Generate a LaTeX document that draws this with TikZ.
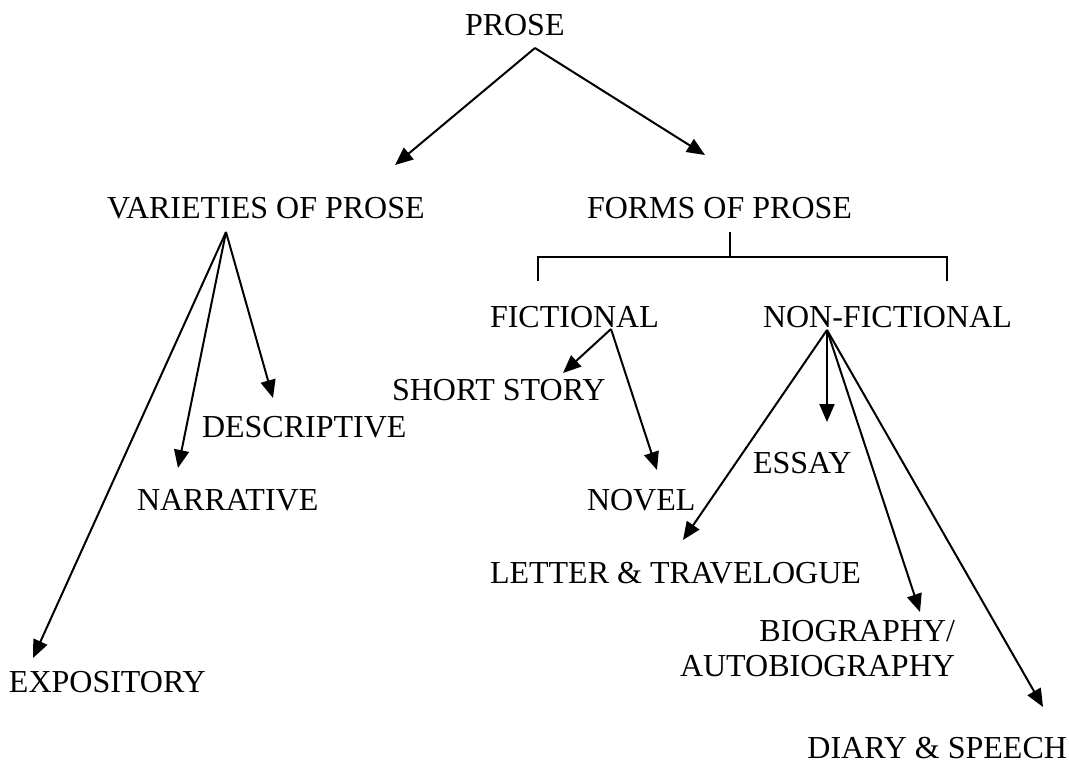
\documentclass[tikz,border=0pt]{standalone}
\usepackage{fontspec}
\setmainfont{Liberation Serif}
\usetikzlibrary{arrows.meta}
\tikzset{
  lbl/.style={inner sep=0pt, outer sep=0pt, anchor=base west, font=\fontsize{32}{35}\selectfont},
  arr/.style={line width=2pt, -{Triangle[length=18pt,width=15pt]}},
  ln/.style={line width=2pt}
}
\begin{document}
\begin{tikzpicture}[x=1pt,y=-1pt]
\useasboundingbox (0,0) rectangle (1069,764);
% labels
\node[lbl] (prose) at (465,35) {PROSE};
\node[lbl] (varieties) at (107,218) {VARIETIES OF PROSE};
\node[lbl] (forms) at (587,218) {FORMS OF PROSE};
\node[lbl] (fictional) at (490,327) {FICTIONAL};
\node[lbl] (nonfictional) at (763,327) {NON-FICTIONAL};
\node[lbl] (shortstory) at (392,400) {SHORT STORY};
\node[lbl] (descriptive) at (202,437) {DESCRIPTIVE};
\node[lbl] (narrative) at (137,510) {NARRATIVE};
\node[lbl] (expository) at (9,692) {EXPOSITORY};
\node[lbl] (essay) at (753,473) {ESSAY};
\node[lbl] (novel) at (587,510) {NOVEL};
\node[lbl] (letter) at (490,583) {LETTER \& TRAVELOGUE};
\node[lbl, anchor=north east, align=right] (bio) at (955,620) {BIOGRAPHY/\\AUTOBIOGRAPHY};
\node[lbl, anchor=base east] (diary) at (1067,758) {DIARY \& SPEECH};
% connector origins and tips
\coordinate (prose-o) at (535,48);
\coordinate (varieties-t) at (395,165);
\coordinate (forms-t) at (705,155);
\coordinate (varieties-o) at (226,232);
\coordinate (descriptive-t) at (273,398);
\coordinate (narrative-t) at (178,468);
\coordinate (expository-t) at (33,658);
\coordinate (forms-o) at (730,232);
\coordinate (forms-j) at (730,257);
\coordinate (fic-top) at (538,257);
\coordinate (fic-end) at (538,281);
\coordinate (nonfic-top) at (947,257);
\coordinate (nonfic-end) at (947,281);
\coordinate (fictional-o) at (611,329);
\coordinate (shortstory-t) at (563,373);
\coordinate (novel-t) at (657,470);
\coordinate (nonfictional-o) at (827,330);
\coordinate (essay-t) at (827,422);
\coordinate (letter-t) at (683,540);
\coordinate (bio-t) at (920,612);
\coordinate (diary-t) at (1043,707);
% connectors
\draw[arr] (prose-o) -- (varieties-t);
\draw[arr] (prose-o) -- (forms-t);
\draw[arr] (varieties-o) -- (descriptive-t);
\draw[arr] (varieties-o) -- (narrative-t);
\draw[arr] (varieties-o) -- (expository-t);
\draw[ln] (forms-o) -- (forms-j);
\draw[ln] (fic-end) -- (fic-top) -- (nonfic-top) -- (nonfic-end);
\draw[arr] (fictional-o) -- (shortstory-t);
\draw[arr] (fictional-o) -- (novel-t);
\draw[arr] (nonfictional-o) -- (essay-t);
\draw[arr] (nonfictional-o) -- (letter-t);
\draw[arr] (nonfictional-o) -- (bio-t);
\draw[arr] (nonfictional-o) -- (diary-t);
\end{tikzpicture}
\end{document}
